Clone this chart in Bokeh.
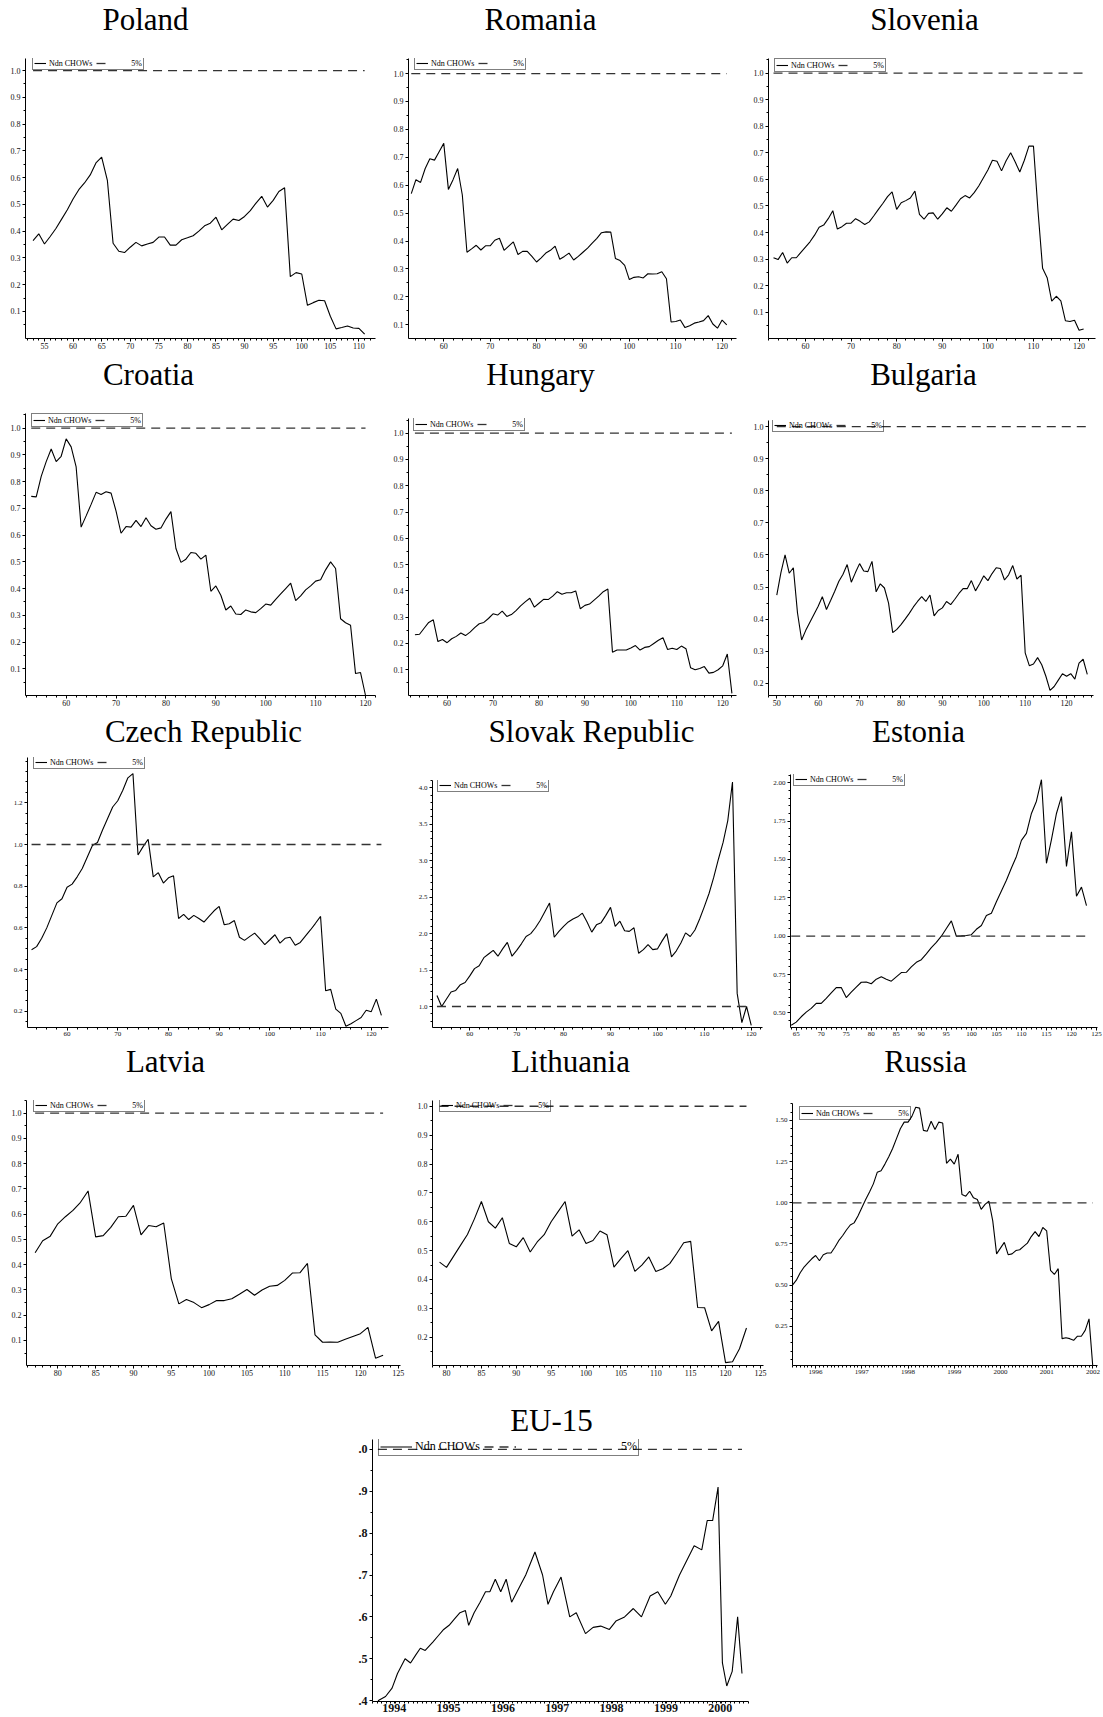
from bokeh.plotting import figure
from bokeh.layouts import column, row
from bokeh.models import FixedTicker, PrintfTickFormatter, Legend, LegendItem, Spacer, Range1d
from bokeh.core.properties import value
from bokeh.embed import file_html
from bokeh.resources import INLINE
import numpy as np

SERIF = "Liberation Serif"
NB = "\u00a0"
CRIT = 1.0  # 5% critical value (normalised)

# ---------------- data ----------------
poland_start = 53
poland = [0.365, 0.39, 0.352, 0.38, 0.41, 0.445, 0.48, 0.52, 0.555, 0.58, 0.61, 0.655, 0.677, 0.59,
          0.355, 0.325, 0.32, 0.34, 0.358, 0.345, 0.352, 0.358, 0.378, 0.378, 0.348, 0.348, 0.368,
          0.375, 0.383, 0.40, 0.42, 0.43, 0.452, 0.405, 0.425, 0.445, 0.44, 0.455, 0.477, 0.505,
          0.53, 0.49, 0.515, 0.548, 0.562, 0.23, 0.245, 0.24, 0.123, 0.133, 0.142, 0.14, 0.082,
          0.035, 0.04, 0.046, 0.038, 0.037, 0.015]

romania_start = 53
romania = [0.57, 0.62, 0.61, 0.66, 0.695, 0.69, 0.72, 0.75, 0.585, 0.62, 0.66, 0.565,
           0.36, 0.372, 0.385, 0.368, 0.383, 0.383, 0.403, 0.41, 0.367, 0.382, 0.397, 0.352,
           0.363, 0.363, 0.345, 0.325, 0.34, 0.357, 0.367, 0.382, 0.335, 0.345, 0.357, 0.332,
           0.345, 0.36, 0.375, 0.393, 0.41, 0.43, 0.433, 0.432, 0.338, 0.33, 0.313, 0.262,
           0.27, 0.272, 0.268, 0.283, 0.282, 0.283, 0.29, 0.265, 0.11, 0.112, 0.117, 0.09,
           0.097, 0.106, 0.11, 0.115, 0.133, 0.103, 0.088, 0.117, 0.10]

slovenia_start = 53
slovenia = [0.305, 0.298, 0.325, 0.285, 0.305, 0.305, 0.325, 0.345, 0.365, 0.39, 0.42, 0.428,
            0.452, 0.482, 0.413, 0.422, 0.435, 0.435, 0.452, 0.442, 0.43, 0.44, 0.463, 0.487,
            0.51, 0.535, 0.553, 0.487, 0.512, 0.52, 0.53, 0.556, 0.468, 0.45, 0.472, 0.474,
            0.45, 0.47, 0.493, 0.48, 0.503, 0.527, 0.539, 0.53, 0.55, 0.575, 0.605, 0.635,
            0.672, 0.668, 0.632, 0.67, 0.7, 0.665, 0.628, 0.672, 0.725, 0.725, 0.48, 0.265,
            0.23, 0.142, 0.16, 0.143, 0.068, 0.065, 0.07, 0.032, 0.037]

croatia_start = 53
croatia = [0.745, 0.743, 0.82, 0.875, 0.922, 0.875, 0.895, 0.96, 0.93, 0.855, 0.63, 0.672,
           0.715, 0.76, 0.752, 0.762, 0.757, 0.69, 0.607, 0.632, 0.63, 0.655, 0.632, 0.665,
           0.635, 0.622, 0.627, 0.66, 0.688, 0.55, 0.498, 0.51, 0.535, 0.532, 0.51, 0.525,
           0.39, 0.41, 0.375, 0.32, 0.335, 0.305, 0.303, 0.32, 0.313, 0.31, 0.325, 0.342,
           0.338, 0.36, 0.38, 0.4, 0.42, 0.355, 0.373, 0.395, 0.41, 0.428, 0.433, 0.47,
           0.5, 0.475, 0.287, 0.272, 0.263, 0.082, 0.086, 0.0]

hungary_start = 53
hungary = [0.233, 0.235, 0.258, 0.28, 0.29, 0.207, 0.215, 0.203, 0.218, 0.227, 0.24, 0.23,
           0.243, 0.26, 0.275, 0.28, 0.295, 0.313, 0.308, 0.323, 0.303, 0.31, 0.325, 0.343,
           0.358, 0.372, 0.338, 0.353, 0.368, 0.367, 0.38, 0.397, 0.387, 0.393, 0.393, 0.4,
           0.332, 0.345, 0.35, 0.365, 0.38, 0.397, 0.407, 0.167, 0.175, 0.175, 0.175, 0.183,
           0.192, 0.175, 0.185, 0.188, 0.2, 0.212, 0.222, 0.177, 0.182, 0.177, 0.19, 0.18,
           0.108, 0.1, 0.105, 0.112, 0.087, 0.09, 0.1, 0.115, 0.16, 0.01]

bulgaria_start = 50
bulgaria = [0.475, 0.545, 0.6, 0.543, 0.56, 0.42, 0.335, 0.365, 0.39, 0.415, 0.44, 0.47,
            0.43, 0.458, 0.487, 0.518, 0.54, 0.57, 0.515, 0.545, 0.573, 0.55, 0.548, 0.58,
            0.485, 0.51, 0.497, 0.45, 0.358, 0.368, 0.383, 0.4, 0.418, 0.438, 0.455, 0.47,
            0.455, 0.475, 0.41, 0.427, 0.435, 0.455, 0.445, 0.462, 0.48, 0.495, 0.495, 0.52,
            0.488, 0.51, 0.535, 0.52, 0.542, 0.56, 0.558, 0.522, 0.538, 0.567, 0.525, 0.537,
            0.295, 0.255, 0.26, 0.28, 0.258, 0.222, 0.178, 0.19, 0.21, 0.23, 0.222, 0.23,
            0.213, 0.263, 0.275, 0.228]

czech_start = 53
czech = [0.495, 0.51, 0.55, 0.60, 0.66, 0.72, 0.74, 0.795, 0.81, 0.845, 0.885, 0.94, 0.995,
         1.01, 1.07, 1.125, 1.18, 1.21, 1.26, 1.32, 1.34, 0.95, 0.99, 1.025, 0.845, 0.865,
         0.815, 0.84, 0.85, 0.645, 0.665, 0.64, 0.66, 0.645, 0.628, 0.655, 0.682, 0.703,
         0.615, 0.62, 0.635, 0.555, 0.54, 0.558, 0.575, 0.548, 0.52, 0.543, 0.567, 0.527,
         0.55, 0.555, 0.517, 0.53, 0.56, 0.59, 0.622, 0.655, 0.298, 0.305, 0.21, 0.19,
         0.128, 0.14, 0.155, 0.17, 0.205, 0.198, 0.258, 0.18]

slovak_start = 53
slovak = [1.15, 1.0, 1.1, 1.2, 1.22, 1.3, 1.33, 1.42, 1.52, 1.56, 1.67, 1.72, 1.77, 1.69,
          1.79, 1.88, 1.69, 1.77, 1.86, 1.96, 2.0, 2.08, 2.18, 2.3, 2.42, 1.95, 2.03, 2.1,
          2.16, 2.2, 2.23, 2.28, 2.16, 2.02, 2.12, 2.15, 2.25, 2.36, 2.1, 2.17, 2.04, 2.03,
          2.08, 1.73, 1.78, 1.85, 1.78, 1.79, 1.9, 2.0, 1.68, 1.76, 1.87, 2.01, 1.96, 2.05,
          2.2, 2.37, 2.55, 2.77, 3.02, 3.25, 3.55, 4.08, 1.18, 0.78, 1.0, 0.74]

estonia_start = 64
estonia = [0.42, 0.44, 0.475, 0.505, 0.53, 0.562, 0.562, 0.595, 0.63, 0.665, 0.665, 0.6,
           0.635, 0.668, 0.7, 0.702, 0.69, 0.72, 0.735, 0.72, 0.707, 0.735, 0.763, 0.765,
           0.8, 0.83, 0.847, 0.885, 0.925, 0.96, 1.0, 1.05, 1.1, 1.0, 1.002, 1.005, 1.01,
           1.045, 1.07, 1.135, 1.15, 1.225, 1.295, 1.365, 1.445, 1.52, 1.625, 1.67, 1.8,
           1.88, 2.02, 1.475, 1.63, 1.8, 1.91, 1.455, 1.68, 1.26, 1.32, 1.2]

latvia_start = 77
latvia = [0.447, 0.495, 0.513, 0.562, 0.59, 0.615, 0.647, 0.692, 0.51, 0.515, 0.548, 0.59,
          0.592, 0.635, 0.518, 0.555, 0.55, 0.565, 0.345, 0.245, 0.262, 0.25, 0.23, 0.242,
          0.258, 0.258, 0.265, 0.283, 0.302, 0.279, 0.3, 0.315, 0.318, 0.338, 0.367, 0.368,
          0.405, 0.122, 0.093, 0.094, 0.093, 0.105, 0.116, 0.127, 0.152, 0.03, 0.042]

lithuania_start = 79
lithuania = [0.46, 0.442, 0.48, 0.518, 0.556, 0.61, 0.67, 0.6, 0.578, 0.614, 0.525, 0.513,
             0.545, 0.495, 0.53, 0.555, 0.6, 0.635, 0.67, 0.55, 0.572, 0.525, 0.535, 0.568,
             0.555, 0.443, 0.472, 0.5, 0.428, 0.45, 0.478, 0.428, 0.437, 0.455, 0.49, 0.527,
             0.532, 0.303, 0.302, 0.222, 0.255, 0.112, 0.115, 0.16, 0.232]

# Russia: monthly observations from July 1995
russia_start_year = 1995.5
russia = [0.50, 0.53, 0.575, 0.61, 0.635, 0.66, 0.68, 0.648, 0.685, 0.695, 0.695, 0.73,
          0.77, 0.80, 0.835, 0.865, 0.878, 0.92, 0.97, 1.02, 1.065, 1.115, 1.185, 1.195,
          1.235, 1.28, 1.33, 1.39, 1.45, 1.49, 1.49, 1.525, 1.58, 1.575, 1.44, 1.435,
          1.495, 1.445, 1.49, 1.485, 1.24, 1.265, 1.235, 1.295, 1.05, 1.04, 1.07, 1.03,
          1.02, 0.96, 0.99, 1.01, 0.89, 0.69, 0.725, 0.76, 0.685, 0.69, 0.71, 0.715,
          0.735, 0.755, 0.795, 0.825, 0.795, 0.85, 0.83, 0.59, 0.565, 0.6, 0.175, 0.18,
          0.175, 0.165, 0.19, 0.19, 0.225, 0.295, 0.0]

eu_years = [1993.70, 1993.84, 1993.96, 1994.06, 1994.20, 1994.30, 1994.40, 1994.48, 1994.57,
            1994.71, 1994.81, 1994.91, 1995.01, 1995.11, 1995.21, 1995.31, 1995.37, 1995.47,
            1995.58, 1995.68, 1995.76, 1995.86, 1995.96, 1996.06, 1996.16, 1996.26, 1996.42,
            1996.59, 1996.73, 1996.83, 1996.93, 1997.07, 1997.23, 1997.35, 1997.52, 1997.66,
            1997.80, 1997.96, 1998.08, 1998.24, 1998.40, 1998.55, 1998.71, 1998.85, 1998.99,
            1999.09, 1999.25, 1999.52, 1999.66, 1999.76, 1999.86, 1999.96, 2000.04, 2000.12,
            2000.22, 2000.32, 2000.40]
eu15 = [0.40, 0.41, 0.43, 0.465, 0.50, 0.49, 0.51, 0.525, 0.52, 0.54, 0.555, 0.57, 0.58,
        0.595, 0.61, 0.615, 0.58, 0.61, 0.635, 0.66, 0.66, 0.69, 0.66, 0.69, 0.635, 0.66,
        0.70, 0.755, 0.70, 0.63, 0.66, 0.695, 0.60, 0.61, 0.56, 0.575, 0.578, 0.57, 0.59,
        0.60, 0.62, 0.60, 0.65, 0.66, 0.63, 0.65, 0.70, 0.77, 0.76, 0.83, 0.83, 0.91,
        0.49, 0.435, 0.47, 0.60, 0.465]

LEGEND_LABEL = "Ndn CHOWs"
CRIT_LABEL = "5%"
titles = [["Poland", "Romania", "Slovenia"],
          ["Croatia", "Hungary", "Bulgaria"],
          ["Czech Republic", "Slovak Republic", "Estonia"],
          ["Latvia", "Lithuania", "Russia"],
          ["EU-15"]]

TITLE_SHIFT = 11  # renderer places the text anchor ~11px above the alphabetic baseline


def seq(start, vals):
    return list(range(start, start + len(vals)))


def arange(a, b, s):
    return [round(v, 4) for v in np.arange(a, b + s / 2, s)]


def title_strip(names, centers, height, base_from_bottom, width=1103):
    p = figure(width=width, height=height, x_range=Range1d(0, width), y_range=Range1d(0, height),
               output_backend="svg", toolbar_location=None, min_border=0)
    p.xaxis.visible = False
    p.yaxis.visible = False
    p.xgrid.visible = False
    p.ygrid.visible = False
    p.outline_line_color = None
    p.text(x=centers, y=[base_from_bottom + TITLE_SHIFT] * len(names), text=names,
           text_font=value(SERIF), text_font_size=value("31px"), text_color="black",
           text_align="center", text_baseline="alphabetic")
    return p


TOP_PAD = 2


def panel(xs, ys, row_top, fig, frame, xr, yr, xt, xm, yt, ym, yfmt, fs, leg,
          big=False, yover=None, bold=False):
    """fig = (left, right, bottom); frame = (left, top, right, bottom) in page px."""
    fl, frr, fb = fig
    al, at, ar, ab = frame
    ft = at - TOP_PAD
    W, H = frr - fl, fb - ft
    p = figure(width=W, height=H, x_range=Range1d(*xr), y_range=Range1d(*yr),
               output_backend="svg", toolbar_location=None,
               min_border_left=al - fl, min_border_right=frr - ar,
               min_border_top=TOP_PAD, min_border_bottom=fb - ab)
    p.outline_line_color = None
    p.xgrid.visible = False
    p.ygrid.visible = False
    p.background_fill_color = "white"
    p.border_fill_color = "white"

    for ax, ticks, minor, fmt in ((p.xaxis[0], xt, xm, "%d"), (p.yaxis[0], yt, ym, yfmt)):
        ax.ticker = FixedTicker(ticks=ticks, minor_ticks=minor)
        ax.formatter = PrintfTickFormatter(format=fmt)
        ax.axis_line_color = "black"
        ax.axis_line_width = 1
        ax.major_tick_line_color = "black"
        ax.minor_tick_line_color = "black"
        ax.major_tick_out = 3
        ax.major_tick_in = 0
        ax.minor_tick_out = 2
        ax.minor_tick_in = 0
        ax.major_label_text_font = SERIF
        ax.major_label_text_font_size = fs
        ax.major_label_text_color = "#111"
        ax.major_label_standoff = 1
        if bold:
            ax.major_label_text_font_style = "bold"
    p.yaxis[0].major_label_standoff = 2
    if big:
        p.xaxis[0].major_tick_out = 2
        p.xaxis[0].major_label_standoff = 0
    if yover:
        p.yaxis[0].major_label_overrides = yover

    r1 = p.line(xs, ys, line_color="black", line_width=1.1)
    r2 = p.line([xs[0], xs[-1]], [CRIT, CRIT], line_color="#333", line_width=1.3,
                line_dash="9 6")

    dx, dy = leg
    fh = ab - at
    if big:
        lfs, gw, lab_h, nsp, pad = "12px", 32, 15, 34, 1
    else:
        lfs, gw, lab_h, nsp, pad = "8px", 12, 10, 10, 1
    lh = lab_h + 2 * pad
    legend = Legend(items=[LegendItem(label=LEGEND_LABEL, renderers=[r1]),
                           LegendItem(label=NB * nsp + CRIT_LABEL, renderers=[r2])],
                    orientation="horizontal", location=(dx, fh - dy - lh),
                    label_text_font=SERIF, label_text_font_size=lfs,
                    label_text_color="black",
                    glyph_width=gw, glyph_height=lab_h, label_height=lab_h,
                    label_standoff=3, spacing=4, padding=pad, margin=0,
                    border_line_color="black", border_line_width=1.2,
                    background_fill_alpha=0.0)
    p.add_layout(legend)
    gap = ft - row_top
    if gap > 0:
        return column(Spacer(width=W, height=gap), p)
    return p


y01 = arange(0.1, 1.0, 0.1)
y01m = arange(0.05, 1.05, 0.05)
x2m = arange(48, 126, 2)
x1m = arange(48, 126, 1)

# ---- row 1 ----
R1 = 40
s1 = title_strip(titles[0], [145, 540, 924], 40, 10)
p_pol = panel(seq(poland_start, poland), poland, R1,
              (0, 380, 355), (25, 58, 375, 338), (51.68, 112.9), (-0.001, 1.045),
              arange(55, 110, 5), x1m, y01, y01m, "%.1f", "8px", (7, 0))
p_rom = panel(seq(romania_start, romania), romania, R1,
              (380, 750, 355), (408, 58, 736, 338), (52.4, 123.1), (0.051, 1.054),
              arange(60, 120, 10), x2m, y01, y01m, "%.1f", "8px", (6, 0))
p_slo = panel(seq(slovenia_start, slovenia), slovenia, R1,
              (750, 1103, 355), (767, 58, 1095, 338), (51.9, 123.6), (0.001, 1.055),
              arange(60, 120, 10), x2m, y01, y01m, "%.1f", "8px", (6, 2))

# ---- row 2 ----
R2 = 395
s2 = title_strip(titles[1], [148, 540, 923], 40, 10)
p_cro = panel(seq(croatia_start, croatia), croatia, R2,
              (0, 380, 712), (25, 413, 375, 695), (51.85, 122.0), (0.0, 1.055),
              arange(60, 120, 10), x2m, y01, y01m, "%.1f", "8px", (6, 2))
p_hun = panel(seq(hungary_start, hungary), hungary, R2,
              (380, 750, 712), (408, 418, 736, 695), (51.6, 123.0), (0.002, 1.056),
              arange(60, 120, 10), x2m, y01, y01m, "%.1f", "8px", (5, 1))
p_bul = panel(seq(bulgaria_start, bulgaria), bulgaria, R2,
              (750, 1103, 712), (767, 420, 1093, 695), (48.0, 126.5), (0.162, 1.019),
              arange(50, 120, 10), x2m, arange(0.2, 1.0, 0.1), y01m, "%.1f", "8px", (4, 0))

# ---- row 3 ----
R3 = 752
s3 = title_strip(titles[2], [203, 591, 918], 40, 10)
p_cze = panel(seq(czech_start, czech), czech, R3,
              (0, 410, 1045), (27, 757, 388, 1027), (52.2, 123.4), (0.122, 1.4175),
              arange(60, 120, 10), x2m, arange(0.2, 1.2, 0.2), arange(0.15, 1.4, 0.05),
              "%.1f", "7px", (6, 0))
p_svk = panel(seq(slovak_start, slovak), slovak, R3,
              (410, 770, 1045), (432, 780, 762, 1027), (52.05, 122.4), (0.712, 4.1),
              arange(60, 120, 10), x2m, arange(1.0, 4.0, 0.5), arange(0.8, 4.1, 0.1),
              "%.1f", "7px", (5, 0))
p_est = panel(seq(estonia_start, estonia), estonia, R3,
              (770, 1103, 1045), (790, 774, 1097, 1027), (63.86, 125.2), (0.405, 2.054),
              arange(65, 125, 5), x1m, arange(0.5, 2.0, 0.25), arange(0.45, 2.05, 0.05),
              "%.2f", "7px", (3, 0))

# ---- row 4 ----
R4 = 1082
s4 = title_strip(titles[3], [165, 570, 925], 37, 10)
p_lat = panel(seq(latvia_start, latvia), latvia, R4,
              (0, 410, 1395), (26, 1100, 400, 1365), (75.86, 125.3), (0.001, 1.05),
              arange(80, 125, 5), x1m, y01, y01m, "%.1f", "8px", (7, 0))
p_lit = panel(seq(lithuania_start, lithuania), lithuania, R4,
              (410, 772, 1395), (432, 1100, 763, 1365), (77.99, 125.44), (0.102, 1.02),
              arange(80, 125, 5), x1m, arange(0.2, 1.0, 0.1), y01m, "%.1f", "8px", (7, 0))
russia_x = [russia_start_year + i / 12 for i in range(len(russia))]
p_rus = panel(russia_x, russia, R4,
              (772, 1103, 1395), (789, 1103, 1097, 1365), (1995.5, 2002.1), (0.012, 1.603),
              arange(1996, 2002, 1), [round(1995.5 + i / 12, 4) for i in range(80)],
              arange(0.25, 1.5, 0.25), arange(0.05, 1.6, 0.05), "%.2f", "7px", (7, 5))

# ---- row 5 ----
R5 = 1437
s5 = title_strip(titles[4], [551], 42, 6)
eu_over = {0.4: ".4", 0.5: ".5", 0.6: ".6", 0.7: ".7", 0.8: ".8", 0.9: ".9", 1.0: ".0"}
p_eu = panel(eu_years, eu15, R5,
             (300, 800, 1717), (372, 1439, 748, 1701), (1993.6, 2000.52), (0.398, 1.0235),
             arange(1994, 2000, 1), [round(1993.6 + i / 12, 4) for i in range(84)],
             [0.4, 0.5, 0.6, 0.7, 0.8, 0.9, 1.0], arange(0.4, 1.0, 0.05), "%.1f", "12px",
             (6, 0), big=True, yover=eu_over, bold=True)

layout = column(
    s1, row(p_pol, p_rom, p_slo),
    s2, row(p_cro, p_hun, p_bul),
    s3, row(p_cze, p_svk, p_est),
    s4, row(p_lat, p_lit, p_rus),
    s5, row(Spacer(width=300, height=280), p_eu),
)

open("out.html", "w").write(file_html(layout, INLINE))
